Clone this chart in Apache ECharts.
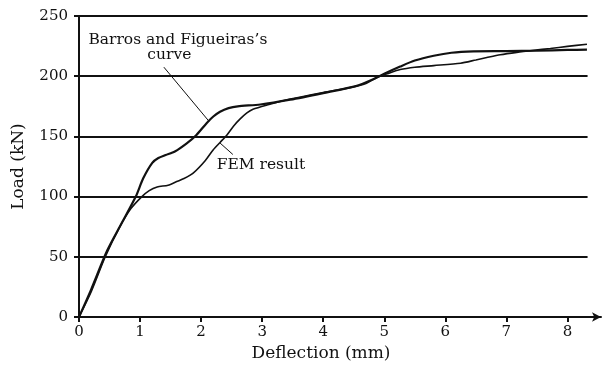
<!DOCTYPE html>
<html>
<head>
<meta charset="utf-8">
<script src="https://cdn.jsdelivr.net/npm/echarts@6/dist/echarts.min.js"></script>
<style>
  html, body { margin: 0; padding: 0; background: #fff; }
  #chart { width: 603px; height: 372px; }
</style>
</head>
<body>
<div id="chart"></div>
<script>
// Load–deflection response: experimental curve vs. finite element result
const deflectionTicks = [0, 1, 2, 3, 4, 5, 6, 7, 8];
const loadTicks = [0, 50, 100, 150, 200, 250];

// [deflection (mm), load (kN)]
const barrosCurve = [
  [0, 0], [0.2, 23], [0.46, 55], [0.7, 78],
  [0.93, 100], [1.05, 115], [1.2, 128], [1.3, 132],
  [1.42, 134.5], [1.57, 137.5], [1.77, 144.5], [1.92, 151], [2.09, 161], [2.2, 166.5],
  [2.31, 170.5], [2.45, 173.5], [2.6, 175], [2.97, 176.5],
  [3.46, 180.5], [4.0, 186], [4.55, 192], [4.8, 197],
  [5.0, 202], [5.26, 208], [5.5, 213], [5.81, 217], [6.1, 219.5], [6.46, 220.6],
  [7.0, 220.8], [7.5, 221.2], [8.0, 221.8], [8.32, 222]
];

const femCurve = [
  [0, 0], [0.2, 21], [0.43, 50], [0.67, 75],
  [0.85, 90], [1.03, 100], [1.15, 105], [1.28, 108],
  [1.46, 109.5], [1.6, 112.5], [1.72, 115], [1.87, 119.5], [2.07, 130],
  [2.2, 139], [2.31, 145], [2.42, 151], [2.53, 158.5], [2.64, 164.5],
  [2.75, 169.5], [2.85, 172.5], [3.08, 176], [3.46, 181],
  [4.0, 186.5], [4.44, 190.5], [4.7, 194], [4.88, 199], [5.05, 202],
  [5.26, 205.5], [5.5, 207.5], [5.81, 208.8], [6.25, 210.8],
  [6.5, 213.5], [6.68, 215.5], [6.9, 217.8], [7.17, 219.8], [7.45, 221.5],
  [7.72, 223], [8.0, 224.8], [8.32, 226.5]
];

// Curve captions (text, anchor in data units)
const captions = [
  ['Barros and Figueiras\u2019s', 1.62, 230.5],
  ['curve', 1.48, 218],
  ['FEM result', 2.98, 126]
];
// Leader lines from captions to curves
const leaders = [
  [[1.39, 207.5], [2.13, 162.5]],
  [[2.31, 144.5], [2.52, 135]]
];

const GRID_END = 8.33;   // horizontal rules stop short of the axis arrow
const INK = '#111';
const SERIF = '"DejaVu Serif", "Liberation Serif", serif';

const chart = echarts.init(document.getElementById('chart'), null, { renderer: 'canvas' });

chart.setOption({
  animation: false,
  backgroundColor: '#fff',
  grid: { left: 79, right: 2, top: 16, bottom: 55 },
  xAxis: {
    type: 'value',
    min: 0,
    max: 8.55,
    interval: 1,
    name: 'Deflection (mm)',
    nameLocation: 'middle',
    nameGap: 21,
    nameTextStyle: { fontFamily: SERIF, fontSize: 17, color: INK, padding: [0, 38, 0, 0] },
    axisLine: {
      show: true,
      symbol: ['none', 'arrow'],
      symbolSize: [7, 9],
      lineStyle: { color: INK, width: 2 }
    },
    axisTick: {
      show: true, inside: false, length: 5, customValues: deflectionTicks,
      lineStyle: { color: INK, width: 2 }
    },
    axisLabel: {
      customValues: deflectionTicks, margin: 8,
      fontFamily: SERIF, fontSize: 15, color: INK
    },
    splitLine: { show: false }
  },
  yAxis: {
    type: 'value',
    min: 0,
    max: 250,
    interval: 50,
    name: 'Load (kN)',
    nameLocation: 'middle',
    nameGap: 52,
    nameTextStyle: { fontFamily: SERIF, fontSize: 17, color: INK },
    axisLine: { show: true, lineStyle: { color: INK, width: 2 } },
    axisTick: { show: true, inside: false, length: 5, lineStyle: { color: INK, width: 2 } },
    axisLabel: { margin: 11, fontFamily: SERIF, fontSize: 15, color: INK },
    splitLine: { show: false }
  },
  series: [
    {
      // horizontal rules at each load tick
      type: 'line',
      data: [],
      silent: true,
      z: 1,
      markLine: {
        silent: true,
        symbol: ['none', 'none'],
        label: { show: false },
        lineStyle: { color: INK, width: 2, type: 'solid' },
        data: loadTicks.filter(v => v > 0).map(v => [{ coord: [0, v] }, { coord: [GRID_END, v] }])
      }
    },
    {
      name: 'Barros and Figueiras',
      type: 'line',
      data: barrosCurve,
      showSymbol: false,
      smooth: 0.25,
      z: 3,
      lineStyle: { color: INK, width: 2.2 }
    },
    {
      name: 'FEM result',
      type: 'line',
      data: femCurve,
      showSymbol: false,
      smooth: 0.25,
      z: 3,
      lineStyle: { color: INK, width: 1.6 },
      markLine: {
        silent: true,
        symbol: ['none', 'none'],
        label: { show: false },
        lineStyle: { color: INK, width: 1, type: 'solid' },
        data: leaders.map(l => [{ coord: l[0] }, { coord: l[1] }])
      }
    },
    {
      type: 'scatter',
      silent: true,
      symbolSize: 0,
      z: 4,
      itemStyle: { opacity: 1 },
      data: captions.map(c => ({ value: [c[1], c[2]], name: c[0] })),
      label: {
        show: true,
        position: 'inside',
        formatter: p => p.name,
        fontFamily: SERIF,
        fontSize: 15.5,
        color: INK,
        opacity: 1
      }
    }
  ]
});
</script>
</body>
</html>
